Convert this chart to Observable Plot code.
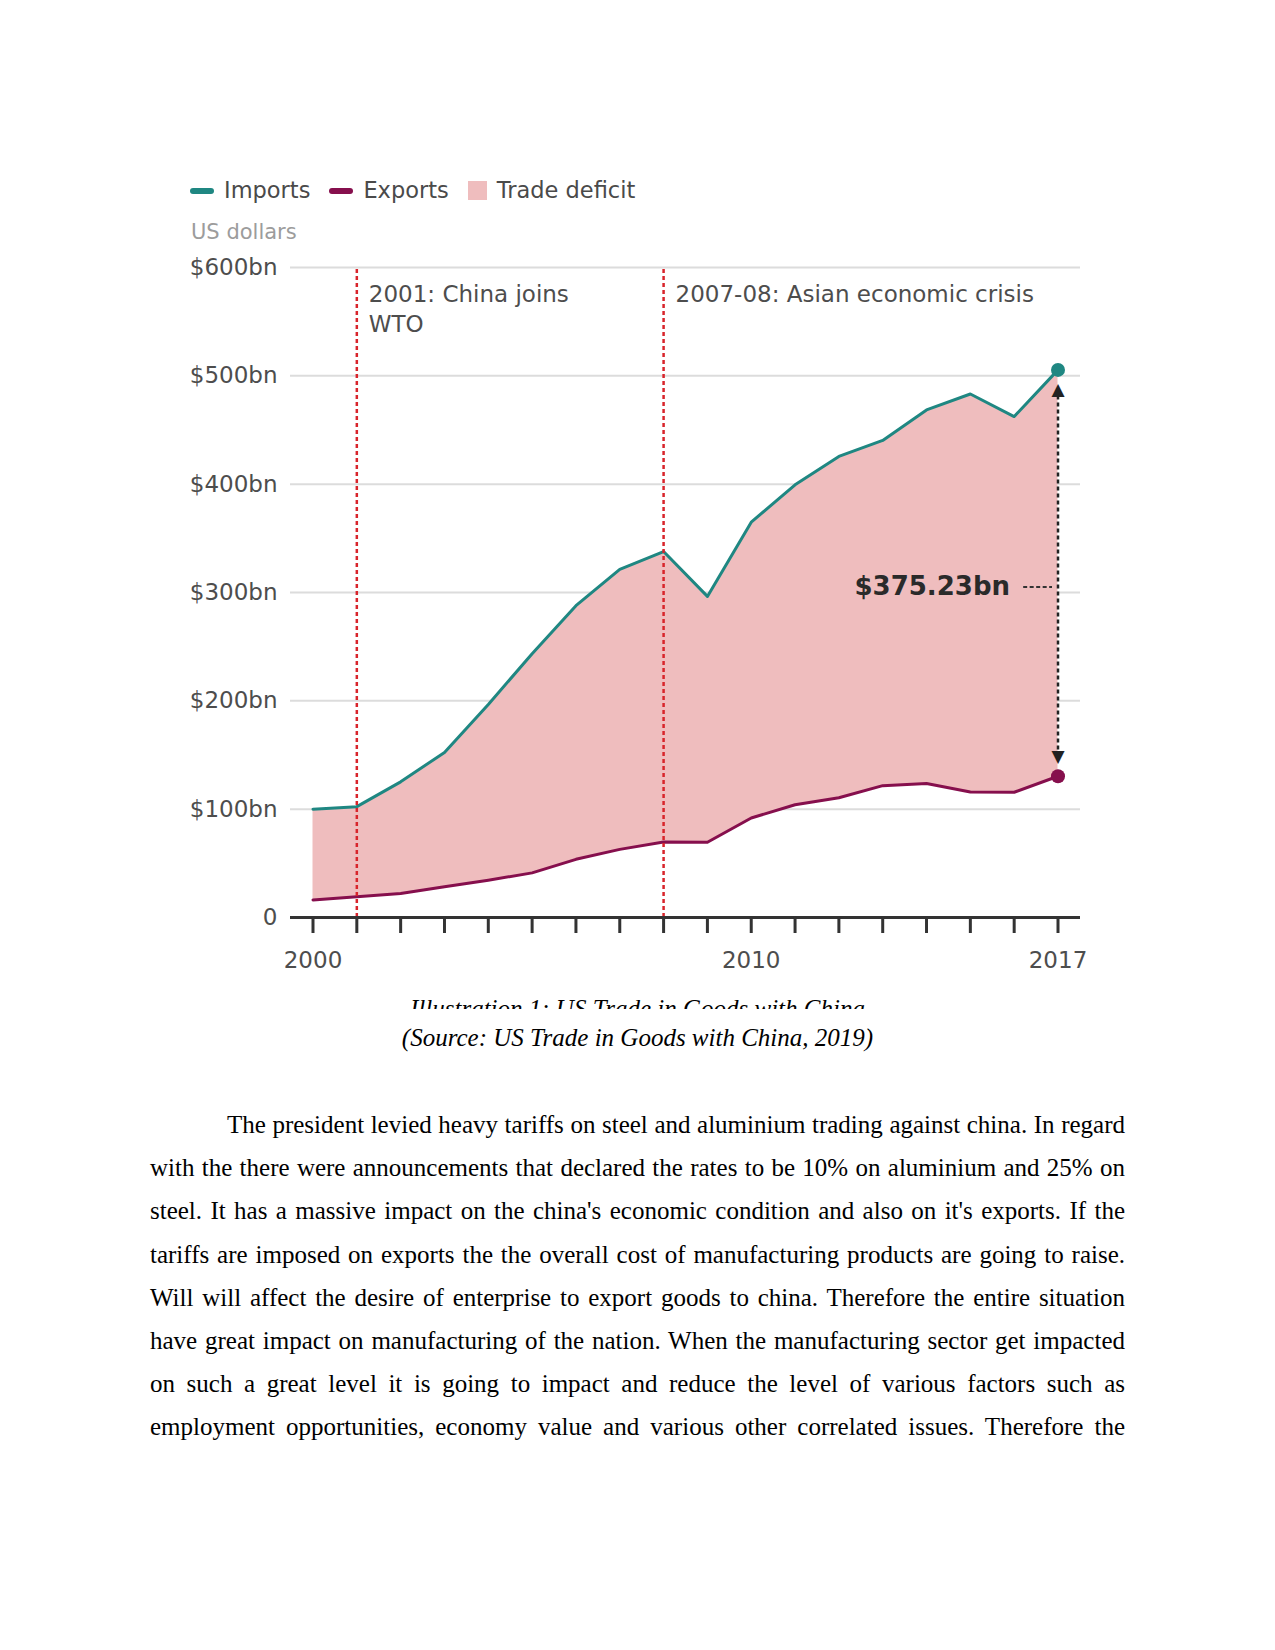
<!DOCTYPE html>
<html>
<head>
<meta charset="utf-8">
<script src="https://cdn.jsdelivr.net/npm/d3@7"></script>
<script src="https://cdn.jsdelivr.net/npm/@observablehq/plot@0.6"></script>
<style>
  html, body { margin: 0; padding: 0; background: #fff; }
  #page { position: relative; width: 1275px; height: 1650px; overflow: hidden; background: #fff; }
  .sans { font-family: "DejaVu Sans", "Liberation Sans", sans-serif; }
  .serif { font-family: "Liberation Serif", "Times New Roman", serif; }
  #legend { position: absolute; left: 190px; top: 179.3px; display: flex; align-items: center;
            font-size: 22.5px; line-height: 22.5px; color: #4a4a4a; white-space: nowrap; }
  .item { display: flex; align-items: center; margin-right: 19px; }
  .swatch-line { width: 24px; height: 6px; border-radius: 3px; margin-right: 10px; }
  .swatch-box { width: 19px; height: 19px; margin-right: 10px; }
  #unit { position: absolute; left: 191px; top: 222.2px; font-size: 21px; line-height: 21px; color: #9c9c9c; white-space: nowrap; }
  #chart { position: absolute; left: 0; top: 240px; }
  #caption-clip { position: absolute; left: 0; top: 987px; width: 1275px; height: 22.3px; overflow: hidden; }
  .caption { font-style: italic; font-size: 25px; line-height: 43.1px; text-align: center; color: #000; white-space: nowrap; }
  #source { position: absolute; left: 0; top: 1015.7px; width: 1275px; }
  #para { position: absolute; left: 150px; top: 1103.3px; width: 975px; font-size: 25px; color: #000; }
  .pline { height: 43.1px; line-height: 43.1px; text-align: justify; text-align-last: justify; }
</style>
</head>
<body>
<div id="page">
  <div id="legend" class="sans"></div>
  <div id="unit" class="sans"></div>
  <div id="chart"></div>
  <div id="caption-clip"><div class="caption serif" id="caption"></div></div>
  <div id="source" class="caption serif"></div>
  <div id="para" class="serif"></div>
</div>
<script>
// ---- Data ----
const years   = [2000, 2001, 2002, 2003, 2004, 2005, 2006, 2007, 2008, 2009, 2010, 2011, 2012, 2013, 2014, 2015, 2016, 2017];
const imports = [100.0, 102.3, 125.2, 152.4, 196.7, 243.5, 287.8, 321.4, 337.8, 296.4, 364.9, 399.4, 425.6, 440.4, 468.5, 483.2, 462.4, 505.5];
const exports = [16.2, 19.2, 22.1, 28.4, 34.4, 41.2, 53.7, 62.9, 69.7, 69.5, 91.9, 104.1, 110.5, 121.7, 123.7, 115.9, 115.6, 130.4];
const yTicks = [0, 100, 200, 300, 400, 500, 600];
const xLabelYears = [2000, 2010, 2017];
const eventYears = [2001, 2008];
const eventTexts = ["2001: China joins\nWTO", "2007-08: Asian economic crisis"];
const deficitText = "$375.23bn";
const deficitLabelValue = 305;
const legendLabels = ["Imports", "Exports", "Trade deficit"];
const unitLabel = "US dollars";
const captionText = "Illustration 1: US Trade in Goods with China";
const sourceText = "(Source: US Trade in Goods with China, 2019)";
const paragraphLines = [
  "The president levied heavy tariffs on steel and aluminium trading against china. In regard",
  "with the there were announcements that declared the rates to be 10% on aluminium and 25% on",
  "steel. It has a massive impact on the china's economic condition and also on it's exports. If the",
  "tariffs are imposed on exports the the overall cost of manufacturing products are going to raise.",
  "Will will affect the desire of enterprise to export goods to china. Therefore the entire situation",
  "have great impact on manufacturing of the nation. When the manufacturing sector get impacted",
  "on such a great level it is going to impact and reduce the level of various factors such as",
  "employment opportunities, economy value and various other correlated issues. Therefore the"
];

// ---- Styles ----
const teal = "#1f8782";
const purple = "#860f4d";
const pink = "#efbdbe";
const red = "#d8242b";
const ink = "#4d4d4d";

// ---- Legend (HTML) ----
const legend = document.getElementById("legend");
const legendColors = [teal, purple, pink];
legendLabels.forEach((lab, i) => {
  const item = document.createElement("div");
  item.className = "item";
  const sw = document.createElement("div");
  sw.className = i < 2 ? "swatch-line" : "swatch-box";
  sw.style.background = legendColors[i];
  const tx = document.createElement("span");
  tx.textContent = lab;
  item.appendChild(sw); item.appendChild(tx);
  legend.appendChild(item);
});
document.getElementById("unit").textContent = unitLabel;

// ---- Chart ----
const table = years.map((year, i) => ({year, imports: imports[i], exports: exports[i]}));
const last = [table[table.length - 1]];
const events = eventYears.map((year, i) => ({year, text: eventTexts[i]}));
const yMax = yTicks[yTicks.length - 1];

const chart = Plot.plot({
  width: 1275,
  height: 745,
  marginTop: 27,
  marginBottom: 68,
  marginLeft: 290,
  marginRight: 195,
  x: {domain: [years[0], years[years.length - 1]], insetLeft: 22.5, insetRight: 22.5},
  y: {domain: [0, yMax]},
  style: {fontFamily: "'DejaVu Sans', 'Liberation Sans', sans-serif", fontSize: "23px", background: "transparent", overflow: "visible"},
  marks: [
    Plot.gridY({ticks: yTicks.filter(d => d > 0), stroke: "#dcdcdc", strokeOpacity: 1, strokeWidth: 2}),
    Plot.areaY(table, {x: "year", y1: "exports", y2: "imports", fill: pink}),
    Plot.line(table, {x: "year", y: "imports", stroke: teal, strokeWidth: 3}),
    Plot.line(table, {x: "year", y: "exports", stroke: purple, strokeWidth: 3}),
    Plot.ruleX(events, {x: "year", y1: () => 0, y2: () => yMax, stroke: red, strokeWidth: 2.5, strokeDasharray: "4,3"}),
    Plot.ruleY([0], {stroke: "#333", strokeWidth: 3}),
    Plot.axisX({ticks: years, tickSize: 16, tickPadding: 18, tickFormat: d => xLabelYears.includes(d) ? String(d) : "",
                stroke: "#333", strokeWidth: 3, fill: ink, fontSize: 23, label: null}),
    Plot.axisY({ticks: yTicks, tickSize: 0, tickPadding: 13, tickFormat: d => d === 0 ? "0" : `$${d}bn`,
                fill: ink, fontSize: 23, label: null}),
    Plot.text(events, {x: "year", y: () => yMax, text: "text", dx: 12, dy: 13, textAnchor: "start", lineAnchor: "top",
                       lineHeight: 1.32, fill: ink, fontSize: 23}),
    // deficit arrow
    Plot.ruleX(last, {x: "year", y1: "imports", y2: "exports", insetTop: 26, insetBottom: 26, stroke: "#222", strokeWidth: 2.5, strokeDasharray: "4,3"}),
    Plot.text(last, {x: "year", y: "imports", text: () => "▲", dy: 20, fontSize: 17, fill: "#222"}),
    Plot.text(last, {x: "year", y: "exports", text: () => "▼", dy: -20, fontSize: 17, fill: "#222"}),
    Plot.ruleY([deficitLabelValue], {y: d => d, x1: () => years[years.length - 2], x2: () => years[years.length - 1],
                insetLeft: 9.5, insetRight: 5.5, stroke: "#333", strokeWidth: 2, strokeDasharray: "4,2.5"}),
    Plot.text([deficitText], {x: () => years[years.length - 1], y: () => deficitLabelValue, text: d => d, textAnchor: "end",
                              dx: -48, fontWeight: "bold", fontSize: 26, fill: "#2a2a2a"}),
    Plot.dot(last, {x: "year", y: "imports", r: 7, fill: teal}),
    Plot.dot(last, {x: "year", y: "exports", r: 7, fill: purple})
  ]
});
document.getElementById("chart").appendChild(chart);

// ---- Document text ----
document.getElementById("caption").textContent = captionText;
document.getElementById("source").textContent = sourceText;
const para = document.getElementById("para");
paragraphLines.forEach((ln, i) => {
  const d = document.createElement("div");
  d.className = "pline";
  if (i === 0) d.style.textIndent = "77px";
  d.textContent = ln;
  para.appendChild(d);
});
</script>
</body>
</html>
